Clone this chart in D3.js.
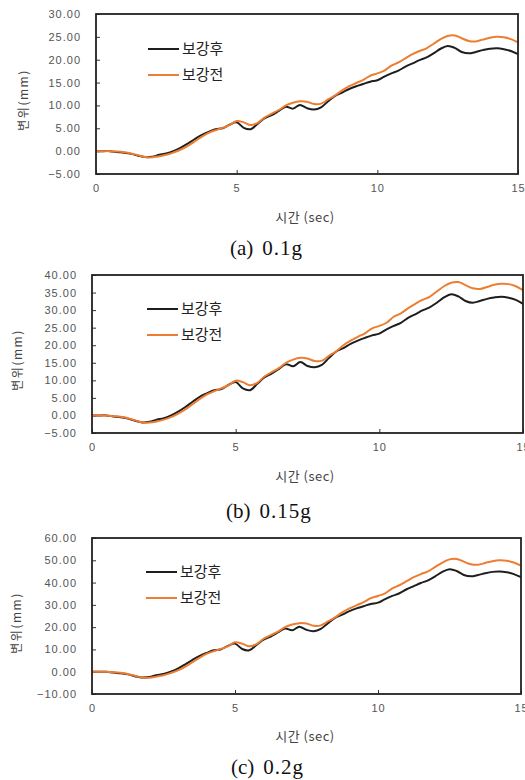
<!DOCTYPE html>
<html>
<head>
<meta charset="utf-8">
<script src="https://cdn.jsdelivr.net/npm/d3@7"></script>
<style>
  body { margin: 0; background: #fff; }
  svg { display: block; }
</style>
</head>
<body>
<svg id="chart" width="525" height="780"></svg>
<script>
// time (sec)
const times = [0,0.25,0.5,0.75,1,1.25,1.5,1.75,2,2.25,2.5,2.75,3,3.25,3.5,3.75,4,4.25,4.5,4.75,
  5,5.25,5.5,5.75,6,6.25,6.5,6.75,7,7.25,7.5,7.75,8,8.25,8.5,8.75,9,9.25,9.5,9.75,
  10,10.25,10.5,10.75,11,11.25,11.5,11.75,12,12.25,12.5,12.75,13,13.25,13.5,13.75,14,14.25,14.5,14.75,15];

// (a) 0.1g
const afterA = [0.0,0.0,0.0,-0.2,-0.35,-0.6,-1.0,-1.3,-1.2,-0.8,-0.5,0.0,0.7,1.6,2.6,3.5,4.2,4.8,5.0,5.8,
  6.3,5.1,4.8,6.0,7.2,7.9,8.8,9.7,9.3,10.1,9.4,9.1,9.6,10.9,12.1,12.8,13.6,14.2,14.7,15.2,
  15.5,16.3,17.0,17.6,18.5,19.2,19.9,20.5,21.4,22.4,23.0,22.6,21.7,21.4,21.7,22.1,22.4,22.5,22.3,21.9,21.2];
const beforeA = [0.0,0.0,0.0,-0.1,-0.25,-0.5,-0.9,-1.3,-1.35,-1.1,-0.8,-0.3,0.3,1.1,2.1,3.1,4.0,4.6,5.1,5.7,
  6.6,6.3,5.7,6.2,7.4,8.2,9.0,10.0,10.6,10.9,10.8,10.3,10.4,11.3,12.2,13.3,14.2,14.9,15.6,16.5,
  17.0,17.6,18.7,19.4,20.3,21.2,21.9,22.5,23.5,24.5,25.2,25.3,24.7,24.1,24.0,24.4,24.8,25.0,24.9,24.5,23.8];

// (b) 0.15g
const afterB = [0.0,0.0,0.0,-0.3,-0.5,-0.9,-1.5,-2.0,-1.8,-1.2,-0.8,0.0,1.1,2.4,3.9,5.3,6.3,7.2,7.5,8.7,
  9.5,7.7,7.2,9.0,10.8,11.9,13.2,14.6,14.0,15.2,14.1,13.7,14.4,16.4,18.2,19.2,20.4,21.3,22.1,22.8,
  23.3,24.5,25.5,26.4,27.8,28.8,29.9,30.8,32.1,33.6,34.5,33.9,32.6,32.1,32.6,33.2,33.6,33.8,33.5,32.9,31.8];
const beforeB = [0.0,0.0,0.0,-0.2,-0.4,-0.8,-1.4,-2.0,-2.0,-1.7,-1.2,-0.5,0.5,1.7,3.2,4.7,6.0,6.9,7.7,8.6,
  9.9,9.5,8.6,9.3,11.1,12.3,13.5,15.0,15.9,16.4,16.2,15.5,15.6,17.0,18.3,20.0,21.3,22.4,23.4,24.8,
  25.5,26.4,28.1,29.1,30.5,31.8,32.9,33.8,35.3,36.8,37.8,38.0,37.1,36.2,36.0,36.6,37.2,37.5,37.4,36.8,35.7];

// (c) 0.2g
const afterC = [0.0,0.0,0.0,-0.4,-0.7,-1.2,-2.0,-2.6,-2.4,-1.6,-1.0,0.0,1.4,3.2,5.2,7.0,8.4,9.6,10.0,11.6,
  12.6,10.2,9.6,12.0,14.4,15.8,17.6,19.4,18.6,20.2,18.8,18.2,19.2,21.8,24.2,25.6,27.2,28.4,29.4,30.4,
  31.0,32.6,34.0,35.2,37.0,38.4,39.8,41.0,42.8,44.8,46.0,45.2,43.4,42.8,43.4,44.2,44.8,45.0,44.6,43.8,42.4];
const beforeC = [0.0,0.0,0.0,-0.2,-0.5,-1.0,-1.8,-2.6,-2.7,-2.2,-1.6,-0.6,0.6,2.2,4.2,6.2,8.0,9.2,10.2,11.4,
  13.2,12.6,11.4,12.4,14.8,16.4,18.0,20.0,21.2,21.8,21.6,20.6,20.8,22.6,24.4,26.6,28.4,29.8,31.2,33.0,
  34.0,35.2,37.4,38.8,40.6,42.4,43.8,45.0,47.0,49.0,50.4,50.6,49.4,48.2,48.0,48.8,49.6,50.0,49.8,49.0,47.6];

const xTicks = [0, 5, 10, 15];
const yTicksA = [-5, 0, 5, 10, 15, 20, 25, 30];
const yTicksB = [-5, 0, 5, 10, 15, 20, 25, 30, 35, 40];
const yTicksC = [-10, 0, 10, 20, 30, 40, 50, 60];

const seriesNames = ["보강후", "보강전"];
const seriesColors = ["#1e1e1e", "#ed7d31"];
const captions = [["(a)", "0.1g"], ["(b)", "0.15g"], ["(c)", "0.2g"]];

const svg = d3.select("#chart");
const fmt = d3.format(".2f");

function drawPanel(p) {
  const x = d3.scaleLinear().domain([0, 15]).range([p.left, p.right]);
  const y = d3.scaleLinear().domain([p.yTicks[0], p.yTicks[p.yTicks.length - 1]]).range([p.bottom, p.top]);
  const g = svg.append("g");

  // y axis (inward ticks)
  const yAxis = g.append("g")
    .attr("transform", `translate(${p.left},0)`)
    .call(d3.axisLeft(y).tickValues(p.yTicks).tickFormat(fmt).tickSizeInner(-4).tickSizeOuter(0).tickPadding(p.left - p.labelRight));
  yAxis.select(".domain").remove();
  yAxis.selectAll("line").attr("stroke", "#333");
  yAxis.selectAll("text")
    .attr("fill", "#555")
    .style("font-family", "Liberation Sans, Arial, sans-serif")
    .style("font-size", "11px")
    .style("letter-spacing", "1px");

  // x axis (inward ticks)
  const xAxis = g.append("g")
    .attr("transform", `translate(0,${p.bottom})`)
    .call(d3.axisBottom(x).tickValues(xTicks).tickSizeInner(-4).tickSizeOuter(0).tickPadding(10));
  xAxis.select(".domain").remove();
  xAxis.selectAll("line").attr("stroke", "#333");
  xAxis.selectAll("text")
    .attr("fill", "#555")
    .style("font-family", "Liberation Sans, Arial, sans-serif")
    .style("font-size", "11px")
    .style("letter-spacing", "1px");

  const line = d3.line()
    .x((d, i) => x(times[i]))
    .y(d => y(d))
    .curve(d3.curveCatmullRom);

  const clipId = "clip" + p.id;
  g.append("clipPath").attr("id", clipId)
    .append("rect")
    .attr("x", p.left).attr("y", p.top)
    .attr("width", p.right - p.left).attr("height", p.bottom - p.top);

  g.append("g").attr("clip-path", `url(#${clipId})`)
    .selectAll("path.series")
    .data([p.after, p.before])
    .join("path")
    .attr("class", "series")
    .attr("d", line)
    .attr("fill", "none")
    .attr("stroke", (d, i) => seriesColors[i])
    .attr("stroke-width", 2)
    .attr("stroke-linejoin", "round");

  // frame
  g.append("rect")
    .attr("x", p.left).attr("y", p.top)
    .attr("width", p.right - p.left).attr("height", p.bottom - p.top)
    .attr("fill", "none")
    .attr("stroke", "#222")
    .attr("stroke-width", 1.8);

  // legend
  const leg = g.append("g");
  seriesNames.forEach((name, i) => {
    const ly = p.legendY + i * 26;
    leg.append("line")
      .attr("x1", p.legendX).attr("x2", p.legendX + 31)
      .attr("y1", ly).attr("y2", ly)
      .attr("stroke", seriesColors[i]).attr("stroke-width", 2);
    leg.append("text")
      .attr("x", p.legendX + 34).attr("y", ly)
      .attr("dy", "0.36em")
      .attr("fill", "#222")
      .style("font-family", "Noto Sans CJK KR, sans-serif")
      .style("font-size", "15px")
      .text(name);
  });

  // axis titles
  g.append("text")
    .attr("x", 305).attr("y", p.xTitleY)
    .attr("text-anchor", "middle")
    .attr("fill", "#444")
    .style("font-family", "Noto Sans CJK KR, sans-serif")
    .style("font-size", "13px")
    .style("letter-spacing", "0.5px")
    .text("시간 (sec)");

  g.append("text")
    .attr("transform", `translate(${p.yTitleX},${p.yTitleY}) rotate(-90)`)
    .attr("text-anchor", "middle")
    .attr("fill", "#444")
    .style("font-family", "Noto Sans CJK KR, sans-serif")
    .style("font-size", "12px")
    .style("letter-spacing", "1.5px")
    .text("변위(mm)");

  // caption
  const cap = g.append("text")
    .attr("x", p.capX).attr("y", p.capY)
    .attr("fill", "#111")
    .style("font-family", "Liberation Serif, Times New Roman, serif")
    .style("font-size", "21px");
  cap.append("tspan").text(captions[p.id][0]);
  cap.append("tspan").attr("dx", 9).style("letter-spacing", "1px").text(captions[p.id][1]);
}

drawPanel({ id: 0, left: 96, right: 518, top: 14, bottom: 174, labelRight: 81,
  yTicks: yTicksA, after: afterA, before: beforeA,
  legendX: 148, legendY: 49, xTitleY: 222, yTitleX: 28, yTitleY: 100, capX: 230, capY: 255 });

drawPanel({ id: 1, left: 92, right: 523, top: 275, bottom: 433, labelRight: 77,
  yTicks: yTicksB, after: afterB, before: beforeB,
  legendX: 147, legendY: 309, xTitleY: 481, yTitleX: 22, yTitleY: 360, capX: 226, capY: 518 });

drawPanel({ id: 2, left: 92, right: 521, top: 538, bottom: 694, labelRight: 77,
  yTicks: yTicksC, after: afterC, before: beforeC,
  legendX: 146, legendY: 572, xTitleY: 741, yTitleX: 21, yTitleY: 623, capX: 231, capY: 774 });
</script>
</body>
</html>
